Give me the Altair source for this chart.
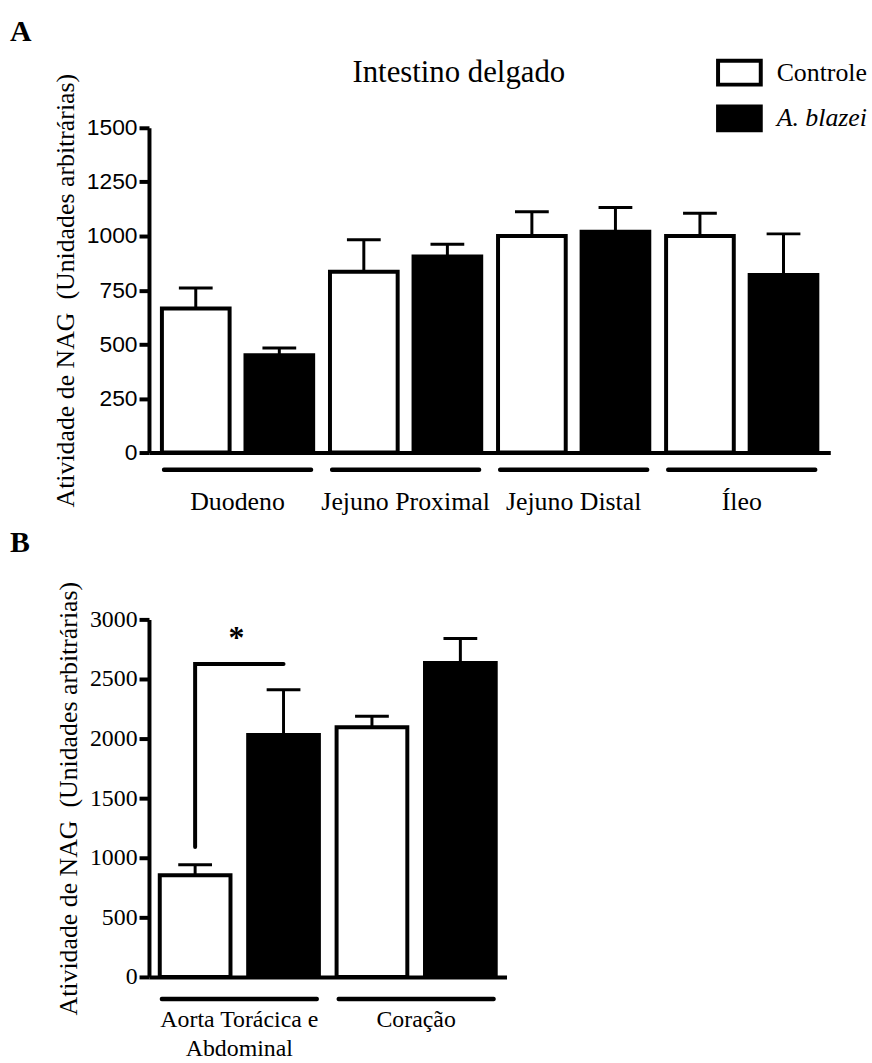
import altair as alt
import pandas as pd

SERIF = "Liberation Serif"
SANS = "Liberation Sans"

# Panel A: NAG activity along the small intestine
segments_a = ["Duodeno", "Jejuno Proximal", "Jejuno Distal", "Íleo"]
controle_a = [665, 835, 1000, 1000]
controle_a_err = [95, 148, 112, 105]
blazei_a = [450, 905, 1020, 820]
blazei_a_err = [33, 57, 112, 190]
ticks_a = [0, 250, 500, 750, 1000, 1250, 1500]

# Panel B: NAG activity in aorta and heart
tissues_b = ["Aorta Torácica e Abdominal", "Coração"]
controle_b = [853, 2095]
controle_b_err = [88, 92]
blazei_b = [2030, 2635]
blazei_b_err = [380, 205]
ticks_b = [0, 500, 1000, 1500, 2000, 2500, 3000]

groups = ["Controle", "A. blazei"]

# significance bracket (aorta: controle vs A. blazei)
bracket_group = ["Controle", "Controle", "A. blazei"]
bracket_y = [1090, 2625, 2625]
star_y = 2840

Y_TITLE = "Atividade de NAG\u00a0 (Unidades arbitrárias)"


def long_frame(cats, c, ce, b, be):
    rows = []
    for i, cat in enumerate(cats):
        rows.append({"cat": cat, "group": groups[0], "value": c[i], "top": c[i] + ce[i]})
        rows.append({"cat": cat, "group": groups[1], "value": b[i], "top": b[i] + be[i]})
    return pd.DataFrame(rows)


def panel(df, cats, ticks, ymax, width, height, pad_outer, off_inner,
          tick_font, tick_size, label_size, label_padding, underline_gap,
          letter, letter_y, legend, label_expr=None, extra=()):
    xaxis = dict(domain=True, domainWidth=4, domainColor="black", ticks=False,
                 tickSize=0, labelFont=SERIF, labelFontSize=label_size,
                 labelPadding=label_padding, labelAngle=0, labelLimit=400,
                 labelColor="black", labelLineHeight=29)
    if label_expr:
        xaxis["labelExpr"] = label_expr
    x = alt.X("cat:N", sort=cats, title=None,
              scale=alt.Scale(paddingInner=0.1, paddingOuter=pad_outer),
              axis=alt.Axis(**xaxis))
    xo = alt.XOffset("group:N", sort=groups, scale=alt.Scale(paddingInner=off_inner))
    y = alt.Y("value:Q", scale=alt.Scale(domain=[0, ymax], nice=False),
              axis=alt.Axis(values=ticks, format="d", domainWidth=4, domainColor="black",
                            tickWidth=4, tickSize=10, tickColor="black",
                            labelFont=tick_font, labelFontSize=tick_size,
                            labelColor="black", labelPadding=2,
                            labelOverlap=False, labelFlush=False,
                            title=Y_TITLE, titleFont=SERIF, titleFontSize=26,
                            titleFontWeight="normal", titleColor="black",
                            titlePadding=8))
    fill_kw = dict(sort=groups, scale=alt.Scale(domain=groups, range=["white", "black"]))
    fill = alt.Fill("group:N", legend=legend, **fill_kw) if legend is not None \
        else alt.Fill("group:N", legend=None, **fill_kw)
    base = alt.Chart(df)
    bars = base.mark_bar(stroke="black", strokeWidth=4).encode(x=x, xOffset=xo, y=y, fill=fill)
    err = base.mark_rule(strokeWidth=3, color="black").encode(
        x=x, xOffset=xo, y=alt.Y("value:Q"), y2="top:Q")
    caps = base.mark_tick(thickness=3, size=34, color="black", opacity=1).encode(
        x=x, xOffset=xo, y=alt.Y("top:Q"))
    underline = alt.Chart(pd.DataFrame({"cat": cats})).mark_rect(
        color="black", cornerRadius=2).encode(
        x=alt.X("cat:N", sort=cats),
        y=alt.value(height + underline_gap), y2=alt.value(height + underline_gap + 4.5))
    letter_mark = alt.Chart(pd.DataFrame({"t": [letter]})).mark_text(
        font=SERIF, fontWeight="bold", fontSize=30, align="left",
        baseline="middle", color="black").encode(
        text="t:N", x=alt.value(-140), y=alt.value(letter_y))
    return alt.layer(err, caps, bars, underline, letter_mark, *extra).properties(
        width=width, height=height)


df_a = long_frame(segments_a, controle_a, controle_a_err, blazei_a, blazei_a_err)
df_b = long_frame(tissues_b, controle_b, controle_b_err, blazei_b, blazei_b_err)

legend_a = alt.Legend(
    orient="none", legendX=571, legendY=-79, title=None,
    symbolType="M-1,-0.56H1V0.56H-1Z", symbolSize=1849,
    symbolStrokeColor="black", symbolStrokeWidth=4,
    labelFont=SERIF, labelFontSize=26, labelColor="black", labelOffset=14,
    rowPadding=2,
    labelFontStyle={"expr": "datum.label === 'A. blazei' ? 'italic' : 'normal'"})

title_a = alt.Chart(pd.DataFrame({"t": ["Intestino delgado"]})).mark_text(
    font=SERIF, fontSize=31, align="center", baseline="middle", color="black").encode(
    text="t:N", x=alt.value(312), y=alt.value(-55))

panel_a = panel(df_a, segments_a, ticks_a, 1500, 686, 327, 0.077, 0.19,
                SANS, 23, 26, 36, 15, "A", -96, legend_a, extra=(title_a,))

bracket = alt.Chart(pd.DataFrame({
    "cat": [tissues_b[0]] * 3, "group": bracket_group, "y": bracket_y,
    "k": [0, 1, 2]})).mark_line(strokeWidth=4, color="black", strokeCap="round").encode(
    x=alt.X("cat:N", sort=tissues_b),
    xOffset=alt.XOffset("group:N", sort=groups),
    y=alt.Y("y:Q"), order="k:Q")
star = alt.Chart(pd.DataFrame({"cat": [tissues_b[0]], "y": [star_y], "t": ["*"]})).mark_text(
    font=SERIF, fontWeight="bold", fontSize=32, baseline="middle", color="black", dx=-3).encode(
    x=alt.X("cat:N", sort=tissues_b), y=alt.Y("y:Q"), text="t:N")

panel_b = panel(df_b, tissues_b, ticks_b, 3000, 360, 360, 0.061, 0.2,
                SERIF, 24, 24, 31, 20, "B", -77, None,
                label_expr="datum.label == 'Aorta Torácica e Abdominal' ? ['Aorta Torácica e', 'Abdominal'] : datum.label",
                extra=(bracket, star))

chart = alt.vconcat(panel_a, panel_b, spacing=14).resolve_scale(
    x="independent", y="independent", xOffset="independent", fill="independent"
).resolve_legend(fill="independent").properties(
    padding={"left": 10, "top": 14, "right": 5, "bottom": 0}, background="white"
).configure_view(stroke=None).configure_axis(grid=False)

chart.save("out.html", embed_options={"renderer": "svg", "actions": False})
